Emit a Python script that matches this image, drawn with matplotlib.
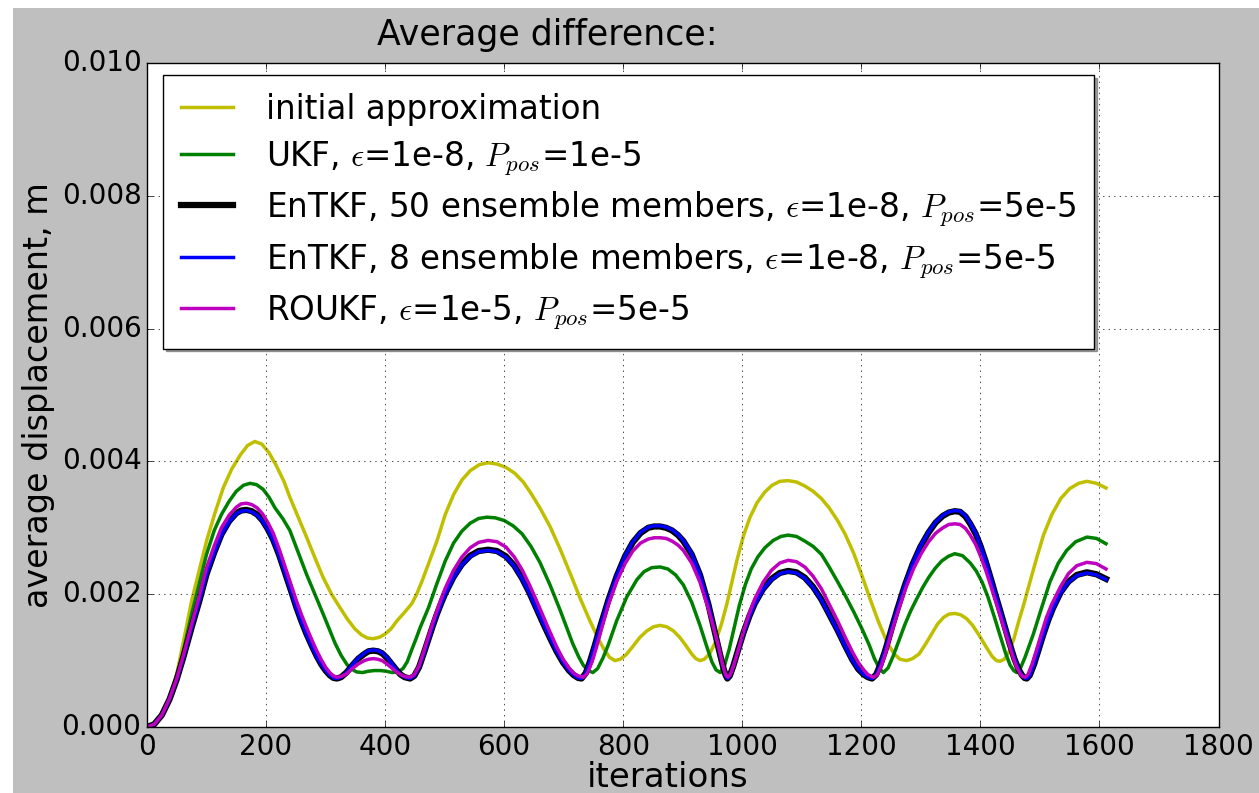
import numpy as np
import matplotlib
matplotlib.use('Agg')
import matplotlib.pyplot as plt
from matplotlib.patches import Rectangle
from matplotlib.ticker import FormatStrFormatter

# ---- data: (iteration, average displacement) ----
init_approx = [(0, 0), (12, 0.00005), (25, 0.0002), (38, 0.00045), (50, 0.0008), (62, 0.00132),
    (75, 0.0019), (88, 0.00237), (100, 0.0028), (114, 0.00322), (128, 0.0036), (142, 0.00388),
    (157, 0.0041), (169, 0.00424), (181, 0.0043), (193, 0.00426), (205, 0.00413), (217, 0.00394),
    (230, 0.0037), (240, 0.00346), (254, 0.00316), (268, 0.00286), (282, 0.00255), (296, 0.00225),
    (310, 0.002), (324, 0.0018), (337, 0.00162), (349, 0.00148), (360, 0.00139), (370, 0.00134),
    (380, 0.00133), (390, 0.00135), (400, 0.0014), (410, 0.00148), (420, 0.0016), (432, 0.00172),
    (445, 0.00186), (453, 0.002), (463, 0.00222), (473, 0.00246), (487, 0.0028), (501, 0.0032),
    (515, 0.0035), (529, 0.00372), (543, 0.00386), (558, 0.00395), (573, 0.00398), (588, 0.00396),
    (603, 0.00391), (618, 0.00382), (632, 0.00369), (645, 0.00352), (660, 0.0033), (677, 0.00302),
    (694, 0.00268), (711, 0.00231), (728, 0.00193), (744, 0.0016), (757, 0.00135), (767, 0.00118),
    (777, 0.00105), (786, 0.001), (795, 0.00102), (805, 0.00109), (815, 0.0012), (828, 0.00135),
    (840, 0.00145), (851, 0.00151), (862, 0.00153), (873, 0.00151), (884, 0.00145), (895, 0.00135),
    (905, 0.00123), (915, 0.0011), (922, 0.00103), (929, 0.001), (936, 0.00102), (945, 0.0011),
    (955, 0.00128), (965, 0.00155), (974, 0.00185), (983, 0.0022), (991, 0.00251), (1002, 0.00288),
    (1013, 0.00316), (1025, 0.00338), (1038, 0.00354), (1050, 0.00364), (1063, 0.0037), (1077, 0.00371),
    (1091, 0.00369), (1105, 0.00363), (1119, 0.00355), (1133, 0.00344), (1146, 0.0033), (1160, 0.00311),
    (1173, 0.0029), (1187, 0.00262), (1201, 0.00228), (1215, 0.00192), (1229, 0.00158), (1243, 0.00128),
    (1255, 0.0011), (1265, 0.00102), (1276, 0.001), (1286, 0.00103), (1297, 0.0011), (1308, 0.00125),
    (1318, 0.0014), (1328, 0.00155), (1338, 0.00165), (1347, 0.0017), (1357, 0.00171), (1367, 0.00169),
    (1377, 0.00163), (1387, 0.00153), (1398, 0.00138), (1410, 0.0012), (1420, 0.00106), (1427, 0.001),
    (1433, 0.00099), (1440, 0.00102), (1448, 0.00113), (1456, 0.00132), (1464, 0.00158), (1473, 0.00185),
    (1484, 0.00221), (1495, 0.00256), (1506, 0.00289), (1520, 0.0032), (1535, 0.00344), (1550, 0.00359),
    (1565, 0.00367), (1579, 0.0037), (1595, 0.00367), (1611, 0.0036)]

ukf = [(0, 0), (12, 0.00005), (25, 0.00019), (38, 0.00043), (50, 0.00075), (62, 0.00118), (75, 0.0017),
    (88, 0.00217), (100, 0.0026), (113, 0.00296), (125, 0.0032), (138, 0.0034), (150, 0.00355),
    (162, 0.00364), (173, 0.00367), (184, 0.00365), (195, 0.00358), (205, 0.00346), (215, 0.0033),
    (228, 0.00314), (240, 0.00296), (254, 0.00263), (268, 0.0023), (282, 0.002), (296, 0.0017),
    (306, 0.00148), (316, 0.00126), (326, 0.00108), (336, 0.00094), (344, 0.00087), (352, 0.00083),
    (362, 0.00082), (372, 0.00084), (382, 0.00085), (392, 0.00085), (402, 0.00084), (412, 0.00082),
    (422, 0.00083), (430, 0.00088), (437, 0.00098), (445, 0.00117), (452, 0.00133), (459, 0.0015),
    (466, 0.00165), (473, 0.0018), (487, 0.00216), (501, 0.0025), (515, 0.00277), (529, 0.00295),
    (543, 0.00307), (557, 0.00314), (571, 0.00316), (585, 0.00315), (600, 0.00311), (615, 0.00303),
    (630, 0.00291), (645, 0.00272), (660, 0.00248), (677, 0.00214), (694, 0.00176), (705, 0.0015),
    (715, 0.00126), (725, 0.00106), (733, 0.00093), (741, 0.00085), (749, 0.00082), (757, 0.00088),
    (766, 0.00104), (775, 0.00124), (789, 0.0016), (806, 0.00196), (823, 0.00222), (835, 0.00234),
    (848, 0.0024), (862, 0.00241), (875, 0.00238), (888, 0.00229), (901, 0.00214), (915, 0.00188),
    (929, 0.00153), (940, 0.00122), (949, 0.00098), (956, 0.00086), (963, 0.00082), (970, 0.00092),
    (978, 0.00117), (986, 0.00148), (995, 0.00183), (1005, 0.00214), (1015, 0.00238), (1026, 0.00256),
    (1038, 0.0027), (1052, 0.00281), (1065, 0.00287), (1077, 0.00289), (1091, 0.00287), (1105, 0.0028),
    (1119, 0.00272), (1133, 0.0026), (1146, 0.00241), (1160, 0.00219), (1173, 0.00198), (1188, 0.00172),
    (1201, 0.00148), (1213, 0.00124), (1222, 0.00103), (1230, 0.00089), (1237, 0.00082), (1245, 0.00089),
    (1254, 0.00108), (1263, 0.0013), (1273, 0.00154), (1283, 0.00175), (1293, 0.00193), (1303, 0.0021),
    (1313, 0.00225), (1324, 0.00239), (1335, 0.0025), (1346, 0.00257), (1357, 0.00261), (1370, 0.00258),
    (1383, 0.00247), (1393, 0.00235), (1403, 0.00218), (1413, 0.00195), (1423, 0.00167), (1433, 0.00138),
    (1442, 0.00112), (1450, 0.00093), (1456, 0.00085), (1461, 0.00082), (1467, 0.00088), (1475, 0.00105),
    (1489, 0.0014), (1503, 0.0018), (1517, 0.00219), (1531, 0.00247), (1545, 0.00266), (1560, 0.00279),
    (1579, 0.00286), (1595, 0.00284), (1611, 0.00276)]

entkf_50 = [(0, 0), (12, 0.00004), (25, 0.00018), (38, 0.00042), (50, 0.00072), (62, 0.00108),
    (75, 0.0015), (88, 0.0019), (100, 0.0023), (113, 0.00263), (125, 0.0029), (138, 0.0031),
    (150, 0.00322), (158, 0.00326), (167, 0.00327), (176, 0.00325), (185, 0.0032), (194, 0.00311),
    (203, 0.00298), (212, 0.00282), (222, 0.00259), (232, 0.00232), (242, 0.00205), (251, 0.0018),
    (260, 0.00158), (268, 0.0014), (277, 0.00122), (285, 0.00107), (293, 0.00094), (300, 0.00085),
    (307, 0.00078), (313, 0.00074), (319, 0.00073), (326, 0.00075), (335, 0.00082), (345, 0.00093),
    (355, 0.00103), (365, 0.0011), (372, 0.00114), (380, 0.00115), (388, 0.00114), (395, 0.00111),
    (403, 0.00104), (411, 0.00095), (419, 0.00086), (426, 0.00079), (433, 0.00075), (442, 0.00073),
    (449, 0.00077), (457, 0.0009), (465, 0.00111), (473, 0.00133), (480, 0.00152), (487, 0.0017),
    (494, 0.00186), (501, 0.00201), (515, 0.00226), (529, 0.00245), (543, 0.00258), (557, 0.00265),
    (573, 0.00267), (588, 0.00265), (603, 0.00257), (617, 0.00243), (630, 0.00224), (642, 0.00203),
    (654, 0.00179), (666, 0.00155), (677, 0.00134), (688, 0.00114), (699, 0.00097), (709, 0.00085),
    (717, 0.00078), (724, 0.00074), (730, 0.00073), (737, 0.00081), (745, 0.00101), (753, 0.00125),
    (761, 0.0015), (775, 0.00191), (789, 0.00227), (803, 0.00257), (816, 0.00278), (829, 0.00292),
    (842, 0.003), (852, 0.00302), (862, 0.00302), (872, 0.003), (882, 0.00296), (892, 0.00289),
    (901, 0.0028), (915, 0.0026), (929, 0.00229), (943, 0.00185), (957, 0.00131), (963, 0.00108),
    (968, 0.0009), (972, 0.00078), (975, 0.00073), (979, 0.00077), (985, 0.00092), (993, 0.00116),
    (1002, 0.00142), (1012, 0.00167), (1021, 0.00186), (1035, 0.00208), (1049, 0.00223), (1063, 0.00232),
    (1077, 0.00235), (1091, 0.00233), (1105, 0.00225), (1119, 0.00211), (1133, 0.00192), (1146, 0.0017),
    (1160, 0.00146), (1173, 0.00122), (1185, 0.00101), (1195, 0.00087), (1204, 0.00079), (1211, 0.00075),
    (1218, 0.00073), (1225, 0.00079), (1232, 0.00094), (1239, 0.00112), (1246, 0.00133), (1253, 0.00155),
    (1260, 0.00176), (1273, 0.00213), (1286, 0.00245), (1299, 0.00271), (1313, 0.00293), (1325, 0.00308),
    (1337, 0.00318), (1347, 0.00323), (1357, 0.00325), (1366, 0.00324), (1375, 0.00317), (1383, 0.00306),
    (1392, 0.00291), (1400, 0.00273), (1409, 0.00249), (1418, 0.00222), (1426, 0.00197), (1433, 0.00176),
    (1441, 0.00151), (1449, 0.00126), (1457, 0.00103), (1464, 0.00087), (1470, 0.00078), (1474, 0.00074),
    (1478, 0.00073), (1483, 0.00078), (1490, 0.00094), (1498, 0.00117), (1506, 0.0014), (1514, 0.00161),
    (1522, 0.00179), (1535, 0.00203), (1548, 0.00219), (1562, 0.00229), (1579, 0.00233), (1595, 0.0023),
    (1611, 0.00223)]

entkf_8 = [(0, 0), (12, 0.00004), (25, 0.00018), (38, 0.00042), (50, 0.00072), (62, 0.00108),
    (75, 0.0015), (88, 0.0019), (100, 0.0023), (113, 0.00262), (125, 0.00289), (138, 0.00309),
    (150, 0.00321), (158, 0.00325), (167, 0.00326), (176, 0.00324), (185, 0.00319), (194, 0.0031),
    (203, 0.00297), (212, 0.00281), (222, 0.00258), (232, 0.00231), (242, 0.00204), (251, 0.00179),
    (260, 0.00157), (268, 0.00139), (277, 0.00121), (285, 0.00106), (293, 0.00094), (300, 0.00085),
    (307, 0.00078), (313, 0.00074), (319, 0.00073), (326, 0.00075), (335, 0.00082), (345, 0.00094),
    (355, 0.00104), (365, 0.00111), (372, 0.00115), (380, 0.00116), (388, 0.00115), (395, 0.00112),
    (403, 0.00105), (411, 0.00096), (419, 0.00086), (426, 0.00079), (433, 0.00075), (442, 0.00073),
    (449, 0.00077), (457, 0.0009), (465, 0.0011), (473, 0.00132), (480, 0.00151), (487, 0.00169),
    (494, 0.00185), (501, 0.002), (515, 0.00225), (529, 0.00244), (543, 0.00257), (557, 0.00264),
    (573, 0.00266), (588, 0.00264), (603, 0.00256), (617, 0.00242), (630, 0.00223), (642, 0.00202),
    (654, 0.00178), (666, 0.00155), (677, 0.00134), (688, 0.00114), (699, 0.00097), (709, 0.00085),
    (717, 0.00078), (724, 0.00074), (730, 0.00073), (737, 0.00081), (745, 0.00101), (753, 0.00126),
    (761, 0.00151), (775, 0.00192), (789, 0.00228), (803, 0.00258), (816, 0.00279), (829, 0.00293),
    (842, 0.00301), (852, 0.00303), (862, 0.00303), (872, 0.00301), (882, 0.00297), (892, 0.0029),
    (901, 0.00281), (915, 0.00261), (929, 0.0023), (943, 0.00186), (957, 0.00131), (963, 0.00108),
    (968, 0.0009), (972, 0.00078), (975, 0.00073), (979, 0.00077), (985, 0.00092), (993, 0.00115),
    (1002, 0.00141), (1012, 0.00166), (1021, 0.00185), (1035, 0.00207), (1049, 0.00222), (1063, 0.00231),
    (1077, 0.00234), (1091, 0.00232), (1105, 0.00224), (1119, 0.0021), (1133, 0.00191), (1146, 0.00169),
    (1160, 0.00145), (1173, 0.00121), (1185, 0.001), (1195, 0.00087), (1204, 0.00079), (1211, 0.00075),
    (1218, 0.00073), (1225, 0.00079), (1232, 0.00094), (1239, 0.00113), (1246, 0.00134), (1253, 0.00156),
    (1260, 0.00177), (1273, 0.00214), (1286, 0.00246), (1299, 0.00272), (1313, 0.00294), (1325, 0.00309),
    (1337, 0.00319), (1347, 0.00324), (1357, 0.00326), (1366, 0.00325), (1375, 0.00318), (1383, 0.00307),
    (1392, 0.00292), (1400, 0.00274), (1409, 0.0025), (1418, 0.00223), (1426, 0.00198), (1433, 0.00177),
    (1441, 0.00152), (1449, 0.00127), (1457, 0.00104), (1464, 0.00087), (1470, 0.00078), (1474, 0.00074),
    (1478, 0.00073), (1483, 0.00078), (1490, 0.00094), (1498, 0.00116), (1506, 0.00139), (1514, 0.0016),
    (1522, 0.00178), (1535, 0.00202), (1548, 0.00218), (1562, 0.00228), (1579, 0.00232), (1595, 0.00229),
    (1611, 0.00222)]

roukf = [(0, 0), (12, 0.00004), (25, 0.00018), (38, 0.00043), (50, 0.00073), (62, 0.00111),
    (75, 0.00155), (88, 0.00198), (100, 0.0024), (113, 0.00273), (125, 0.003), (138, 0.00319),
    (150, 0.00331), (158, 0.00336), (167, 0.00337), (176, 0.00335), (185, 0.0033), (194, 0.00321),
    (203, 0.00308), (212, 0.00292), (222, 0.00268), (232, 0.00241), (242, 0.00214), (251, 0.0019),
    (260, 0.00168), (268, 0.0015), (277, 0.00131), (285, 0.00115), (293, 0.00101), (300, 0.0009),
    (307, 0.00082), (313, 0.00077), (319, 0.00075), (326, 0.00076), (335, 0.0008), (345, 0.00088),
    (355, 0.00095), (365, 0.001), (372, 0.00102), (380, 0.00103), (388, 0.00102), (395, 0.001),
    (403, 0.00095), (411, 0.00089), (419, 0.00083), (426, 0.00079), (433, 0.00076), (442, 0.00075),
    (449, 0.00079), (457, 0.00092), (465, 0.00114), (473, 0.00137), (480, 0.00157), (487, 0.00175),
    (494, 0.00193), (501, 0.00209), (515, 0.00236), (529, 0.00256), (543, 0.0027), (557, 0.00278),
    (573, 0.00281), (588, 0.00279), (603, 0.00271), (617, 0.00256), (630, 0.00237), (642, 0.00215),
    (654, 0.00191), (666, 0.00166), (677, 0.00143), (688, 0.00121), (699, 0.00102), (709, 0.00089),
    (717, 0.00081), (724, 0.00077), (733, 0.00075), (740, 0.00081), (748, 0.00099), (755, 0.0012),
    (763, 0.00146), (775, 0.00184), (789, 0.00219), (803, 0.00246), (816, 0.00265), (829, 0.00277),
    (842, 0.00283), (852, 0.00285), (862, 0.00285), (872, 0.00284), (882, 0.0028), (892, 0.00274),
    (901, 0.00266), (915, 0.00247), (929, 0.00218), (943, 0.00178), (954, 0.00142), (961, 0.00118),
    (966, 0.00098), (970, 0.00084), (973, 0.00077), (976, 0.00075), (980, 0.00079), (986, 0.00094),
    (994, 0.00118), (1002, 0.00144), (1012, 0.00172), (1021, 0.00193), (1035, 0.00218), (1049, 0.00236),
    (1063, 0.00247), (1077, 0.00251), (1091, 0.00249), (1105, 0.00241), (1119, 0.00227), (1133, 0.00208),
    (1146, 0.00185), (1160, 0.0016), (1173, 0.00135), (1185, 0.00113), (1195, 0.00097), (1204, 0.00086),
    (1211, 0.00079), (1217, 0.00076), (1221, 0.00075), (1227, 0.00079), (1234, 0.00093), (1241, 0.00112),
    (1248, 0.00134), (1255, 0.00155), (1262, 0.00175), (1275, 0.0021), (1288, 0.00239), (1301, 0.00262),
    (1313, 0.00279), (1325, 0.00292), (1337, 0.003), (1347, 0.00305), (1357, 0.00306), (1366, 0.00305),
    (1375, 0.00299), (1383, 0.00289), (1392, 0.00275), (1400, 0.00258), (1409, 0.00236), (1418, 0.00211),
    (1426, 0.00188), (1433, 0.00168), (1441, 0.00145), (1449, 0.00122), (1456, 0.00102), (1462, 0.00088),
    (1467, 0.0008), (1471, 0.00076), (1475, 0.00075), (1480, 0.00079), (1487, 0.00095), (1495, 0.00118),
    (1503, 0.00142), (1511, 0.00165), (1520, 0.00185), (1535, 0.00212), (1548, 0.00231), (1562, 0.00243),
    (1579, 0.00248), (1595, 0.00246), (1611, 0.00238)]

labels = ['initial approximation',
          r'UKF, $\epsilon$=1e-8, $P_{pos}$=1e-5',
          r'EnTKF, 50 ensemble members, $\epsilon$=1e-8, $P_{pos}$=5e-5',
          r'EnTKF, 8 ensemble members, $\epsilon$=1e-8, $P_{pos}$=5e-5',
          r'ROUKF, $\epsilon$=1e-5, $P_{pos}$=5e-5']

plt.style.use('classic')
plt.rcParams['font.family'] = ['DejaVu Sans']
plt.rcParams['mathtext.fontset'] = 'cm'

fig = plt.figure(figsize=(12.59, 7.93), dpi=100, facecolor='white')
fig.patches.append(Rectangle((13 / 1259, 0), 1 - 13 / 1259, 1 - 8 / 793, transform=fig.transFigure,
                             facecolor='#bfbfbf', edgecolor='none', zorder=-10))
ax = fig.add_axes([147 / 1259, 1 - 727 / 793, (1218.5 - 147) / 1259, (727 - 63) / 793])

def xy(pairs):
    a = np.array(pairs)
    return a[:, 0], a[:, 1]

ax.plot(*xy(init_approx), color='y', lw=2.5, label=labels[0], solid_joinstyle='round')
ax.plot(*xy(ukf), color='g', lw=2.5, label=labels[1], solid_joinstyle='round')
ax.plot(*xy(entkf_50), color='k', lw=4.5, label=labels[2], solid_joinstyle='round')
ax.plot(*xy(entkf_8), color='b', lw=2.5, label=labels[3], solid_joinstyle='round')
ax.plot(*xy(roukf), color='m', lw=2.5, label=labels[4], solid_joinstyle='round')

ax.set_xlim(0, 1800)
ax.set_ylim(0, 0.010)
ax.set_xticks(np.arange(0, 1801, 200))
ax.set_yticks(np.arange(0, 0.0101, 0.002))
ax.yaxis.set_major_formatter(FormatStrFormatter('%.3f'))
ax.tick_params(labelsize=20)
ax.grid(True)
ax.set_xlabel('iterations', fontsize=24.5, labelpad=0)
ax.xaxis.label.set_x(0.486)
ax.set_ylabel('average displacement, m', fontsize=24)
ax.text(0.374, 1.016, 'Average difference:', transform=ax.transAxes, ha='center', va='bottom', fontsize=25)

leg = ax.legend(loc='upper left', bbox_to_anchor=(0.0149, 0.982), borderaxespad=0,
                fontsize=23.5, shadow=True, handlelength=1.6, handletextpad=1.0,
                borderpad=0.55, labelspacing=0.4, numpoints=1)

fig.savefig('out.png', dpi=100, facecolor=fig.get_facecolor())
